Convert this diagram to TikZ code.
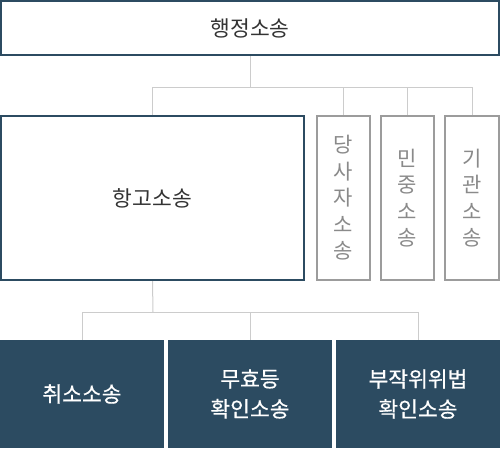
\documentclass[tikz,border=0pt]{standalone}
\usepackage{fontspec}
\setmainfont{Noto Sans CJK KR}
\newfontfamily\medfont[FakeBold=0.6]{Noto Sans CJK KR}
\definecolor{navy}{HTML}{2C4B61}
\definecolor{txtdark}{HTML}{333333}
\definecolor{txtgray}{HTML}{8A8A8A}
\definecolor{boxgray}{HTML}{9C9C9C}
\definecolor{linegray}{HTML}{CCCCCC}
\begin{document}
\begin{tikzpicture}[x=1pt,y=-1pt,
  darkbox/.style={draw=navy,line width=2pt,fill=white,inner sep=0pt,text=txtdark,font=\fontsize{21.5}{24}\selectfont},
  graybox/.style={draw=boxgray,line width=2pt,fill=white,inner sep=0pt,minimum width=53pt,minimum height=164pt},
  vtext/.style={text=txtgray,align=center,inner sep=0pt,font=\fontsize{21}{26.5}\selectfont},
  fillbox/.style={fill=navy,inner sep=0pt,text=white,align=center,minimum width=164pt,minimum height=108pt,font=\medfont\fontsize{21.5}{30}\selectfont},
  conn/.style={draw=linegray,line width=1pt}]
\useasboundingbox (0,0) rectangle (500,448);
\node[darkbox,minimum width=498pt,minimum height=54pt] (top) at (250,28) {행정소송};
\node[darkbox,minimum width=303pt,minimum height=164pt] (hg) at (152.5,198) {항고소송};
\node[graybox] (ds) at (343.5,198) {};
\node[graybox] (mj) at (407.5,198) {};
\node[graybox,minimum width=54pt] (gk) at (472,198) {};
\node[vtext] (dst) at (343.5,198) {당\\사\\자\\소\\송};
\node[vtext] (mjt) at (407.5,198) {민\\중\\소\\송};
\node[vtext] (gkt) at (472,198) {기\\관\\소\\송};
\node[fillbox] (cs) at (82,394) {취소소송};
\node[fillbox] (mh) at (250,394) {무효등\\확인소송};
\node[fillbox] (bj) at (418,394) {부작위위법\\확인소송};
\coordinate (j1) at (250,87);
\coordinate (j2) at (153,312);
\draw[conn] (top.south) -- (j1);
\draw[conn] (hg.north) -- (hg.north |- j1) -- (gk.north |- j1) -- (gk.north);
\draw[conn] (ds.north) -- (ds.north |- j1);
\draw[conn] (mj.north) -- (mj.north |- j1);
\draw[conn] (hg.south) -- (j2);
\draw[conn] (cs.north) -- (cs.north |- j2) -- (bj.north |- j2) -- (bj.north);
\draw[conn] (mh.north) -- (mh.north |- j2);
\end{tikzpicture}
\end{document}
